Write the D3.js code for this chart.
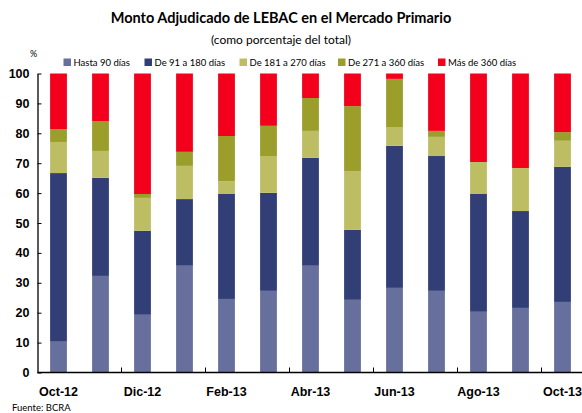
<!DOCTYPE html>
<html>
<head>
<meta charset="utf-8">
<script src="https://cdn.jsdelivr.net/npm/d3@7"></script>
<style>
  body { margin: 0; background: #fff; }
  svg { display: block; font-family: Lato, "Open Sans", sans-serif; }
</style>
</head>
<body>
<svg id="chart"></svg>
<script>
// meses (todos), etiquetas visibles cada dos meses
const months = ["Oct-12", "Nov-12", "Dic-12", "Ene-13", "Feb-13", "Mar-13", "Abr-13",
                "May-13", "Jun-13", "Jul-13", "Ago-13", "Sep-13", "Oct-13"];
const tickLabels = ["Oct-12", "Dic-12", "Feb-13", "Abr-13", "Jun-13", "Ago-13", "Oct-13"];
const yTicks = [0, 10, 20, 30, 40, 50, 60, 70, 80, 90, 100];

// % del total adjudicado
const hasta90 = [10.3, 32.3, 19.3, 35.7, 24.6, 27.3, 35.7, 24.3, 28.3, 27.3, 20.3, 21.6, 23.6];
const de91a180 = [56.4, 32.8, 28.1, 22.3, 35.1, 32.8, 36.1, 23.4, 47.5, 45.1, 39.4, 32.4, 45.2];
const de181a270 = [10.4, 9.0, 11.0, 11.1, 4.3, 12.3, 9.0, 19.7, 6.3, 6.4, 10.7, 14.4, 8.7];
const de271a360 = [4.3, 10.0, 1.3, 4.7, 15.1, 10.1, 11.0, 21.7, 16.1, 2.0, 0, 0, 2.9];
const mas360 = [18.6, 15.9, 40.3, 26.2, 20.9, 17.5, 8.2, 10.9, 1.8, 19.2, 29.6, 31.6, 19.6];

const seriesNames = ["Hasta 90 días", "De 91 a 180 días", "De 181 a 270 días", "De 271 a 360 días", "Más de 360 días"];
const seriesColors = ["#67709c", "#323f76", "#bdbe63", "#9c9e2c", "#f2001c"];
const seriesData = [hasta90, de91a180, de181a270, de271a360, mas360];

let svgWidth = 582, svgHeight = 413;
let svg = d3.select("#chart")
    .attr("width", svgWidth)
    .attr("height", svgHeight);

// tabla para d3.stack
let table = months.map(function (m, i) {
    let row = { mes: m };
    seriesNames.forEach(function (s, j) { row[s] = seriesData[j][i]; });
    return row;
});

let x = d3.scaleBand()
    .domain(months)
    .range([37.5, 37.5 + 42 * 13])
    .paddingInner(0.6)
    .paddingOuter(0.3);

let y = d3.scaleLinear()
    .domain([0, 100])
    .range([372.5, 73.5]);

let color = d3.scaleOrdinal().domain(seriesNames).range(seriesColors);

let stacked = d3.stack().keys(seriesNames)(table);

svg.append("g")
    .selectAll("g")
    .data(stacked)
    .join("g")
    .attr("fill", function (d) { return color(d.key); })
    .selectAll("rect")
    .data(function (d) { return d; })
    .join("rect")
    .attr("x", function (d) { return x(d.data.mes); })
    .attr("width", x.bandwidth())
    .attr("y", function (d) { return y(d[1]); })
    .attr("height", function (d) { return y(d[0]) - y(d[1]); });

// eje Y
let yAxis = svg.append("g")
    .attr("transform", "translate(37.5,0)")
    .call(d3.axisLeft(y).tickValues(yTicks).tickSizeInner(-4).tickSizeOuter(0).tickPadding(8));
yAxis.select(".domain").attr("stroke", "#000").attr("stroke-width", 1.3);
yAxis.selectAll(".tick line").attr("stroke", "#000");
yAxis.selectAll("text")
    .attr("font-size", 12.5)
    .attr("font-weight", "bold")
    .attr("fill", "#000");

// eje X
let step = x.step();
let xAxis = svg.append("g")
    .attr("transform", "translate(0,372.5)")
    .call(d3.axisBottom(x).tickValues(tickLabels).tickSize(0).tickPadding(15));
xAxis.select(".domain").remove();
xAxis.selectAll("text")
    .attr("font-size", 12.5)
    .attr("font-weight", "bold")
    .attr("fill", "#000");

xAxis.append("line")
    .attr("x1", 37.5)
    .attr("x2", svgWidth)
    .attr("stroke", "#000")
    .attr("stroke-width", 1.3);

// marcas entre pares de meses
let sepMonths = months.filter(function (m, i) { return i > 0 && i % 2 === 0; });
xAxis.selectAll(".sep")
    .data(sepMonths)
    .join("line")
    .attr("class", "sep")
    .attr("x1", function (m) { return x(m) - (step - x.bandwidth()) / 2; })
    .attr("x2", function (m) { return x(m) - (step - x.bandwidth()) / 2; })
    .attr("y1", 0)
    .attr("y2", -5)
    .attr("stroke", "#000");

// títulos
svg.append("text")
    .attr("x", 281)
    .attr("y", 23)
    .attr("text-anchor", "middle")
    .attr("font-size", 14.5)
    .attr("font-weight", "bold")
    .attr("fill", "#000")
    .text("Monto Adjudicado de LEBAC en el Mercado Primario");

svg.append("text")
    .attr("x", 281)
    .attr("y", 44)
    .attr("text-anchor", "middle")
    .attr("font-size", 12)
    .attr("fill", "#000")
    .text("(como porcentaje del total)");

svg.append("text")
    .attr("x", 33.5)
    .attr("y", 57)
    .attr("text-anchor", "middle")
    .attr("font-size", 9)
    .attr("fill", "#000")
    .text("%");

// leyenda
const legendX = [63.5, 144.5, 239.5, 338, 438];
let legend = svg.append("g")
    .selectAll("g")
    .data(seriesNames)
    .join("g")
    .attr("transform", function (d, i) { return "translate(" + legendX[i] + ",58.5)"; });
legend.append("rect")
    .attr("width", 7.5)
    .attr("height", 7.5)
    .attr("fill", function (d) { return color(d); });
legend.append("text")
    .attr("x", 10)
    .attr("y", 7)
    .attr("font-size", 9.5)
    .attr("fill", "#000")
    .text(function (d) { return d; });

svg.append("text")
    .attr("x", 12)
    .attr("y", 411)
    .attr("font-size", 9.5)
    .attr("fill", "#000")
    .text("Fuente: BCRA");
</script>
</body>
</html>
